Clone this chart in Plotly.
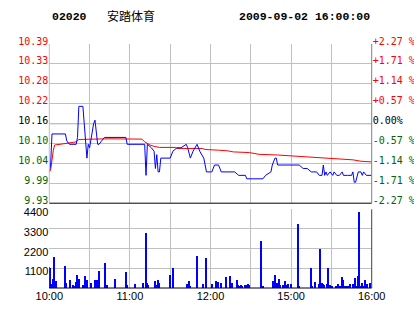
import plotly.graph_objects as go

# ---------------- data ----------------
stock_code = "02020"
stock_name = "安踏体育"
timestamp = "2009-09-02 16:00:00"
prev_close = 10.16

# price line (minute index from 10:00, HK session 10:00-12:30, 14:30-16:00)
price_t = [0, 1, 2, 12, 13, 15, 20, 21, 22, 25, 26, 28, 29, 30, 33, 34, 36, 37, 39, 41,
           57, 58, 71, 72, 73, 76, 78, 79, 80, 81, 82, 83, 90, 92, 95, 98, 102, 103, 105,
           107, 110, 112, 115, 116, 117, 121, 123, 126, 128, 136, 138, 141, 142, 146, 147,
           159, 161, 165, 166, 168, 169, 170, 186, 189, 192, 195, 199, 201, 203, 204, 205,
           206, 207, 209, 211, 212, 214, 216, 218, 219, 222, 225, 226, 227, 228, 230, 232,
           233, 234, 236, 240]
price_v = [10.02, 10.04, 10.13, 10.13, 10.11, 10.10, 10.10, 10.12, 10.21, 10.21, 10.16, 10.06,
           10.10, 10.09, 10.16, 10.17, 10.10, 10.10, 10.11, 10.12,
           10.12, 10.10, 10.10, 10.01, 10.10, 10.09, 10.08, 10.03, 10.07, 10.02, 10.02, 10.06,
           10.06, 10.08, 10.09, 10.09, 10.10, 10.09, 10.06,
           10.08, 10.10, 10.08, 10.06, 10.04, 10.02, 10.02, 10.04, 10.04, 10.02, 10.02, 10.02,
           10.01, 10.01, 10.01, 10.00,
           10.00, 10.01, 10.02, 10.04, 10.06, 10.06, 10.04, 10.04, 10.03, 10.03, 10.02, 10.02,
           10.01, 10.01, 10.04, 10.01,
           10.02, 10.01, 10.02, 10.01, 10.02, 10.01, 10.01, 10.02, 10.01, 10.01, 10.01, 10.02,
           9.99, 9.99, 10.02, 10.02,
           10.01, 10.02, 10.01, 10.01]

# average price line
avg_t = [0, 1, 3, 4, 8, 14, 20, 22, 35, 44, 69, 71, 75, 78, 82, 94, 95, 114, 116, 125, 126,
         133, 137, 149, 154, 156, 170, 183, 190, 201, 215, 226, 232, 240]
avg_v = [10.020, 10.025, 10.083, 10.098, 10.100, 10.104, 10.107, 10.114, 10.115, 10.116,
         10.115, 10.107, 10.098, 10.094, 10.091, 10.091, 10.088, 10.088, 10.085, 10.085,
         10.083, 10.081, 10.078, 10.076, 10.073, 10.071, 10.069, 10.066, 10.064, 10.061,
         10.059, 10.055, 10.051, 10.049]

# volume bars
vol_t = [0, 1, 2, 3, 4, 5, 12, 13, 16, 18, 19, 20, 21, 22, 25, 27, 28, 31, 34, 36, 37, 42, 43,
         49, 57, 58, 64, 70, 72, 73, 74, 79, 80, 81, 82, 90, 92, 103, 104, 105, 110, 115, 117,
         121, 124, 126, 128, 132, 135, 136, 140, 141, 142, 143, 144, 146, 147, 148, 149, 158,
         159, 167, 168, 170, 171, 172, 174, 176, 177, 178, 180, 185, 186, 195, 196, 198, 201,
         202, 203, 204, 205, 207, 208, 209, 210, 211, 214, 215, 216, 217, 218, 219, 220, 222,
         223, 224, 226, 227, 228, 229, 230, 231, 232, 233, 234, 235, 236, 237, 239]
vol_v = [1150, 1120, 220, 500, 1690, 390, 1230, 280, 450, 170, 120, 310, 690, 500, 130, 670,
         450, 280, 450, 450, 950, 1400, 170,
         500, 890, 170, 220, 280, 3070, 280, 170, 390, 130, 450, 280, 725, 1115, 220, 390, 110,
         1790, 220, 1680,
         220, 390, 340, 280, 610, 670, 280, 450, 170, 110, 170, 110, 170, 170, 220, 170, 2620,
         110, 390, 720, 280, 500, 170, 170, 390, 170, 220, 220, 3570, 110, 1115, 110, 340, 220,
         2180, 280, 220, 170, 220, 1115, 170, 110, 110, 110, 220, 110, 110, 610, 450, 110, 110,
         110, 220, 220, 110, 560, 110, 670, 4225, 110, 280, 110, 450, 110, 220, 280]

price_ticks = [9.93, 9.99, 10.04, 10.10, 10.16, 10.22, 10.28, 10.33, 10.39]
pct_ticks = ["-2.27 %", "-1.71 %", "-1.14 %", "-0.57 %", "0.00%", "+0.57 %", "+1.14 %", "+1.71 %", "+2.27 %"]
pct_levels = [-2.27, -1.71, -1.14, -0.57, 0.0, 0.57, 1.14, 1.71, 2.27]
time_ticks = [0, 30, 60, 90, 120, 150, 180, 210, 240]
time_labels = ["10:00", "", "11:00", "", "12:00", "", "15:00", "", "16:00"]
vol_ticks = [0, 1100, 2200, 3300, 4400]
vol_labels = ["", "1100", "2200", "3300", "4400"]

# ---------------- styling ----------------
W, H = 414, 314
RED = "#ff0000"
GREEN = "#006600"
GRID = "#c0c0c0"


def col(level):
    return RED if level > 0 else (GREEN if level < 0 else "#000000")


y_levels = [prev_close * (1 + p / 100) for p in pct_levels]
left_text = [f'<span style="color:{col(p)}">{t:.2f}</span>' for t, p in zip(price_ticks, pct_levels)]
right_text = [f'<span style="color:{col(p)}">{t}</span>' for t, p in zip(pct_ticks, pct_levels)]

x_dom = [49.3 / W, 371.7 / W]
p_dom = [1 - 203.2 / H, 1 - 44.0 / H]
v_dom = [1 - 288.0 / H, 1 - 209.3 / H]
yr = [y_levels[0], y_levels[-1]]

fig = go.Figure()
fig.add_trace(go.Scatter(x=avg_t, y=avg_v, mode="lines", line=dict(color=RED, width=1),
                         xaxis="x", yaxis="y", hoverinfo="skip"))
fig.add_trace(go.Scatter(x=price_t, y=price_v, mode="lines", line=dict(color="#0000ff", width=1),
                         xaxis="x", yaxis="y", hoverinfo="skip"))
fig.add_trace(go.Scatter(x=[0, 240], y=yr, mode="markers", marker=dict(opacity=0),
                         xaxis="x", yaxis="y2", hoverinfo="skip"))
fig.add_trace(go.Bar(x=vol_t, y=vol_v, width=0.75, marker=dict(color="#0000ff", line=dict(width=0)),
                     xaxis="x2", yaxis="y3", hoverinfo="skip"))

mono = dict(family="DejaVu Sans Mono", size=10)
sans = dict(family="Liberation Sans", size=11, color="#000000")

fig.update_layout(
    width=W, height=H, autosize=False,
    margin=dict(l=0, r=0, t=0, b=0),
    paper_bgcolor="white", plot_bgcolor="white",
    showlegend=False,
    xaxis=dict(domain=x_dom, range=[0, 240], tickvals=time_ticks, showticklabels=False,
               showgrid=True, gridcolor=GRID, gridwidth=1, zeroline=False, anchor="y",
               ticks="", fixedrange=True),
    yaxis=dict(domain=p_dom, range=yr, tickvals=y_levels, ticktext=left_text, tickfont=mono,
               showgrid=True, gridcolor=GRID, zeroline=False, ticks="", anchor="x",
               automargin=False, ticklabelshift=-3),
    yaxis2=dict(range=yr, overlaying="y", side="right", tickvals=y_levels, ticktext=right_text,
                tickfont=mono, showgrid=False, zeroline=False, ticks="", anchor="x",
                automargin=False, ticklabelshift=-3),
    xaxis2=dict(domain=x_dom, range=[0, 240], tickvals=time_ticks, ticktext=time_labels,
                tickfont=sans, showgrid=True, gridcolor=GRID, zeroline=False, anchor="y3",
                ticks="", automargin=False),
    yaxis3=dict(domain=v_dom, range=[0, 4400], tickvals=vol_ticks, ticktext=vol_labels,
                tickfont=sans, showgrid=True, gridcolor=GRID, zeroline=False, ticks="",
                anchor="x2", automargin=False, ticklabelshift=3),
    bargap=0,
)

# reference / border lines
shapes = [
    dict(type="line", xref="x domain", yref="y", x0=0, x1=1, y0=prev_close, y1=prev_close,
         line=dict(color="#000000", width=1), layer="below"),
    dict(type="line", xref="x domain", yref="y domain", x0=0, x1=1, y0=0, y1=0,
         line=dict(color="#000000", width=1)),
    dict(type="line", xref="x domain", yref="y domain", x0=0, x1=0, y0=0, y1=1,
         line=dict(color=GRID, width=1)),
    dict(type="line", xref="x domain", yref="y domain", x0=1, x1=1, y0=0, y1=1,
         line=dict(color="#808080", width=1)),
    dict(type="line", xref="x2 domain", yref="y3 domain", x0=0, x1=1, y0=0, y1=0,
         line=dict(color="#000000", width=1)),
    dict(type="line", xref="x2 domain", yref="y3 domain", x0=1, x1=1, y0=0, y1=1,
         line=dict(color="#404040", width=1)),
]
fig.update_layout(shapes=shapes)

title_font = dict(family="Liberation Mono", size=11.5, color="#000000")
fig.add_annotation(text=f"<b>{stock_code}</b>", xref="paper", yref="paper", x=50 / W, y=1 - 17 / H,
                   xanchor="left", yanchor="middle", showarrow=False, font=title_font)
fig.add_annotation(text=stock_name, xref="paper", yref="paper", x=105 / W, y=1 - 16 / H,
                   xanchor="left", yanchor="middle", showarrow=False,
                   font=dict(family="Noto Sans CJK SC", size=12, color="#000000"))
fig.add_annotation(text=f"<b>{timestamp}</b>", xref="paper", yref="paper", x=237 / W, y=1 - 17 / H,
                   xanchor="left", yanchor="middle", showarrow=False, font=title_font)

fig.write_html("out.html")
